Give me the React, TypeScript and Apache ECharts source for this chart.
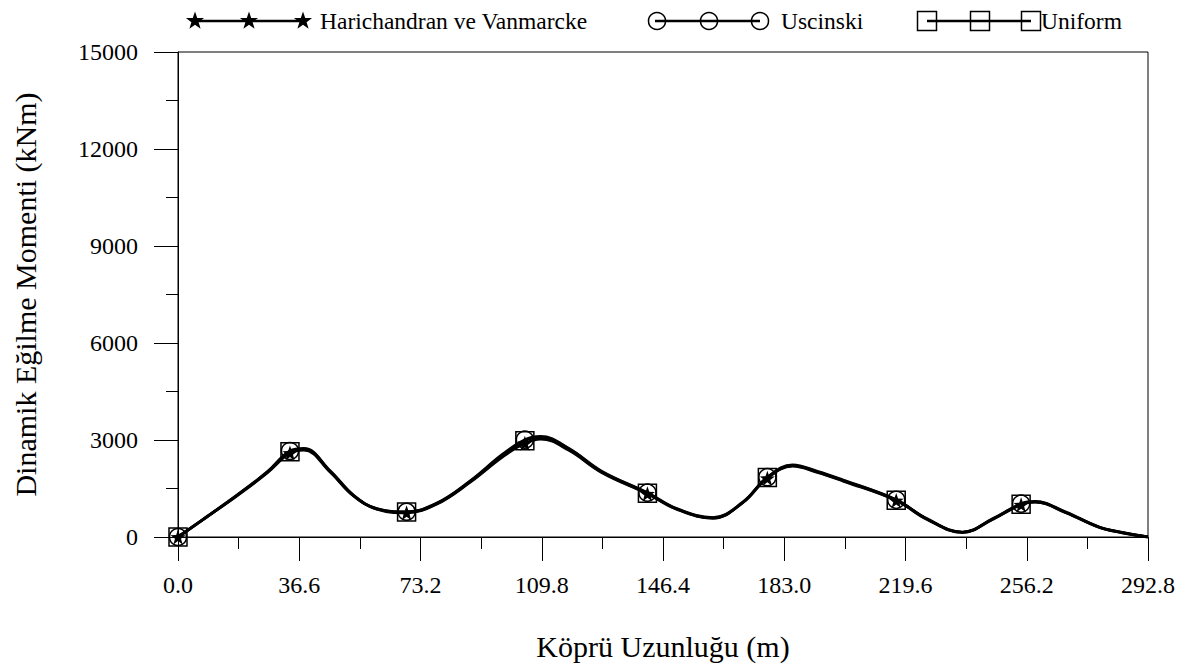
import React, { useEffect, useRef } from 'react';
import * as echarts from 'echarts';

// Bridge length positions (m)
const positions = [0, 9, 18, 27, 33.8, 38, 46, 53, 60, 69, 78, 88, 98, 104.7, 109.5, 118, 128, 141.7, 150.5, 161.5, 170.5, 177.9, 185.5, 193, 200.8, 216.8, 226, 236.8, 246, 254.5, 258.7, 268, 278, 285, 292.8];

// Dynamic bending moment (kNm)
const harichandran = [0, 640, 1290, 1990, 2600, 2690, 2000, 1270, 860, 750, 1010, 1680, 2480, 2900, 3030, 2680, 1990, 1340, 860, 580, 1060, 1820, 2190, 2000, 1730, 1130, 550, 140, 550, 1000, 1080, 750, 300, 130, 0];
const uscinski = [0, 650, 1310, 2020, 2660, 2740, 2040, 1290, 880, 780, 1040, 1720, 2560, 3010, 3110, 2740, 2030, 1370, 880, 600, 1080, 1850, 2230, 2030, 1760, 1150, 570, 150, 570, 1030, 1100, 770, 310, 140, 0];
const uniform = [0, 645, 1300, 2005, 2640, 2720, 2020, 1280, 870, 770, 1025, 1700, 2530, 2980, 3080, 2720, 2010, 1355, 870, 590, 1070, 1840, 2210, 2015, 1745, 1140, 560, 145, 560, 1015, 1090, 760, 305, 135, 0];

// indices of positions that carry a marker
const markerIndices = [0, 4, 9, 13, 17, 21, 25, 29];

const seriesNames = ['Harichandran ve Vanmarcke', 'Uscinski', 'Uniform'];
const xTickLabels = ['0.0', '36.6', '73.2', '109.8', '146.4', '183.0', '219.6', '256.2', '292.8'];
const yTicks = [0, 3000, 6000, 9000, 12000, 15000];

const FONT = 'Liberation Serif';
const STAR = 'path://M0,-10L2.35,-3.24L9.51,-3.09L3.8,1.24L5.88,8.09L0,4L-5.88,8.09L-3.8,1.24L-9.51,-3.09L-2.35,-3.24Z';

function starPoints(cx: number, cy: number, R: number) {
  const pts: number[][] = [];
  const r = R * 0.4;
  for (let i = 0; i < 10; i++) {
    const a = -Math.PI / 2 + (i * Math.PI) / 5;
    const rad = i % 2 === 0 ? R : r;
    pts.push([cx + rad * Math.cos(a), cy + rad * Math.sin(a)]);
  }
  return pts;
}

function buildData(ys: number[]) {
  const set = new Set(markerIndices);
  return positions.map((x, i) =>
    set.has(i) ? { value: [x, ys[i]] } : { value: [x, ys[i]], symbol: 'none' }
  );
}

function legendText(x: number, y: number, text: string) {
  return {
    type: 'text', x, y,
    style: { text, fontFamily: FONT, fontSize: 23.5, fill: '#000', verticalAlign: 'middle', align: 'left' },
  };
}

function legendGraphics() {
  const els: any[] = [];
  const y = 21;
  // star legend
  const sx = [195, 249, 303];
  els.push({ type: 'line', shape: { x1: sx[0], y1: y, x2: sx[2], y2: y }, style: { stroke: '#000', lineWidth: 2.5 } });
  sx.forEach((cx) => els.push({ type: 'polygon', shape: { points: starPoints(cx, y, 9.5) }, style: { fill: '#000' } }));
  els.push(legendText(320, y, seriesNames[0]));
  // circle legend
  const cx3 = [657, 709, 760];
  els.push({ type: 'line', shape: { x1: cx3[0] - 2, y1: y, x2: cx3[2], y2: y }, style: { stroke: '#000', lineWidth: 2.5 } });
  cx3.forEach((cx) => els.push({ type: 'circle', shape: { cx, cy: y, r: 8.5 }, style: { fill: 'none', stroke: '#000', lineWidth: 1.5 } }));
  els.push(legendText(781, y, seriesNames[1]));
  // square legend
  const qx = [927, 980, 1031];
  els.push({ type: 'line', shape: { x1: qx[0], y1: y, x2: qx[2], y2: y }, style: { stroke: '#000', lineWidth: 2.5 } });
  qx.forEach((cx) => els.push({ type: 'rect', shape: { x: cx - 9.5, y: y - 9.5, width: 19, height: 19 }, style: { fill: 'none', stroke: '#000', lineWidth: 1.5 } }));
  els.push(legendText(1041, y, seriesNames[2]));
  return els;
}

export default function App() {
  const ref = useRef<HTMLDivElement>(null);
  useEffect(() => {
    document.body.style.margin = '0';
    const chart = echarts.init(ref.current!, null, { renderer: 'svg' });
    const lineBase = {
      type: 'line' as const,
      smooth: 0.4,
      lineStyle: { color: '#000', width: 2.8 },
      z: 3,
    };
    chart.setOption({
      animation: false,
      backgroundColor: '#fff',
      textStyle: { fontFamily: FONT },
      grid: { left: 178, right: 42, top: 52, bottom: 128, show: true, borderColor: '#000', borderWidth: 1, backgroundColor: 'transparent' },
      xAxis: {
        type: 'value',
        min: 0,
        max: 292.8,
        interval: 36.6,
        name: 'Köprü Uzunluğu (m)',
        nameLocation: 'middle',
        nameGap: 94,
        nameTextStyle: { fontFamily: FONT, fontSize: 30, color: '#000' },
        axisLine: { onZero: false, lineStyle: { color: '#000', width: 1 } },
        axisTick: { length: 24, lineStyle: { color: '#000', width: 1 } },
        minorTick: { show: true, splitNumber: 2, length: 12, lineStyle: { color: '#000', width: 1 } },
        splitLine: { show: false },
        minorSplitLine: { show: false },
        axisLabel: {
          color: '#000', fontFamily: FONT, fontSize: 24, margin: 36,
          formatter: (v: number) => {
            const idx = Math.round(v / 36.6);
            return xTickLabels[idx] ?? v.toFixed(1);
          },
        },
      },
      yAxis: {
        type: 'value',
        min: yTicks[0],
        max: yTicks[yTicks.length - 1],
        interval: 3000,
        name: 'Dinamik Eğilme Momenti (kNm)',
        nameLocation: 'middle',
        nameGap: 138,
        nameTextStyle: { fontFamily: FONT, fontSize: 30, color: '#000' },
        axisLine: { show: true, lineStyle: { color: '#000', width: 1 } },
        axisTick: { show: true, length: 24, lineStyle: { color: '#000', width: 1 } },
        minorTick: { show: true, splitNumber: 2, length: 12, lineStyle: { color: '#000', width: 1 } },
        splitLine: { show: false },
        minorSplitLine: { show: false },
        axisLabel: { color: '#000', fontFamily: FONT, fontSize: 24, margin: 40, formatter: (v: number) => String(v) },
      },
      graphic: legendGraphics(),
      series: [
        {
          ...lineBase,
          name: seriesNames[2],
          data: buildData(uniform),
          symbol: 'rect',
          symbolSize: 18,
          itemStyle: { color: 'rgba(0,0,0,0)', borderColor: '#000', borderWidth: 1.5 },
        },
        {
          ...lineBase,
          name: seriesNames[1],
          data: buildData(uscinski),
          symbol: 'circle',
          symbolSize: 17,
          itemStyle: { color: 'rgba(0,0,0,0)', borderColor: '#000', borderWidth: 1.5 },
        },
        {
          ...lineBase,
          name: seriesNames[0],
          data: buildData(harichandran),
          symbol: STAR,
          symbolSize: 15,
          itemStyle: { color: '#000', borderWidth: 0 },
        },
      ],
    });
    return () => chart.dispose();
  }, []);
  return <div ref={ref} style={{ width: 1190, height: 666 }} />;
}
